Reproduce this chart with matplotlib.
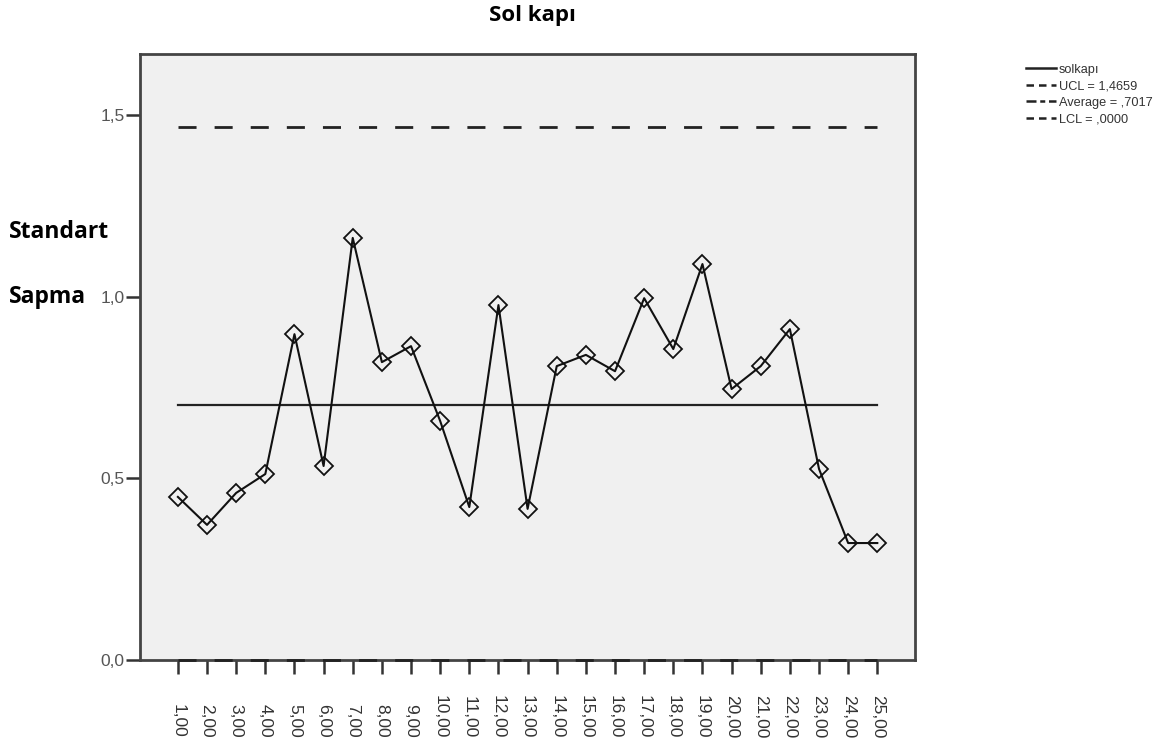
import matplotlib
matplotlib.use("Agg")
import matplotlib.pyplot as plt
from matplotlib.lines import Line2D

samples = list(range(1, 26))
tick_labels = [f"{i},00" for i in samples]
solkapi = [0.449, 0.372, 0.460, 0.512, 0.897, 0.534, 1.162, 0.820, 0.864, 0.658,
           0.421, 0.977, 0.416, 0.809, 0.840, 0.795, 0.996, 0.856, 1.090, 0.746,
           0.809, 0.911, 0.526, 0.322, 0.322]
ucl = 1.4659
average = 0.7017
lcl = 0.0
y_ticks = [0.0, 0.5, 1.0, 1.5]
y_tick_labels = ["0,0", "0,5", "1,0", "1,5"]

fig = plt.figure(figsize=(11.57, 7.49), dpi=100)
ax = fig.add_axes([0.121, 0.1188, 0.670, 0.809])
ax.set_facecolor("#f0f0f0")

ax.plot(samples, [ucl] * len(samples), color="#222222", lw=2.0, ls=(0, (6.5, 6.5)))
ax.plot(samples, [average] * len(samples), color="#222222", lw=1.6, ls="-")
ax.plot(samples, [lcl] * len(samples), color="#222222", lw=2.0, ls=(0, (6.5, 6.5)),
        clip_on=False, zorder=5)
ax.plot(samples, solkapi, color="#111111", lw=1.5, marker="D", markersize=9.5,
        markerfacecolor="none", markeredgecolor="#111111", markeredgewidth=1.3, zorder=6)

ax.set_xlim(-0.3, 26.3)
ax.set_ylim(0, 1.668)
ax.set_xticks(samples)
ax.set_xticklabels([])
xt = ax.get_xaxis_transform()
for x, lab in zip(samples, tick_labels):
    ax.text(x, -0.1287, lab, transform=xt, rotation=270, ha="center", va="bottom",
            fontsize=12.5, color="#333333", family="Liberation Sans")
ax.set_yticks(y_ticks)
ax.set_yticklabels(y_tick_labels, fontsize=12.5, color="#555555", family="Liberation Sans")
ax.tick_params(axis="both", direction="out", length=10, width=1.8, color="#333333")
ax.tick_params(axis="y", pad=1)
for s in ax.spines.values():
    s.set_linewidth(2.0)
    s.set_color("#444444")

fig.text(0.46, 0.979, "Sol kapı", ha="center", va="center", fontsize=16,
         fontweight="bold", family="Open Sans")
fig.text(0.008, 0.690, "Standart", ha="left", va="center", fontsize=16.5,
         fontweight="bold", family="Open Sans")
fig.text(0.008, 0.603, "Sapma", ha="left", va="center", fontsize=16.5,
         fontweight="bold", family="Open Sans")

handles = [
    Line2D([], [], color="#222222", lw=1.8, ls="-"),
    Line2D([], [], color="#222222", lw=1.8, ls=(0, (3, 2, 3, 2))),
    Line2D([], [], color="#222222", lw=1.8, ls=(0, (4, 1.5, 2, 1.5))),
    Line2D([], [], color="#222222", lw=1.8, ls=(0, (3, 2, 3, 2))),
]
labels = ["solkapı", "UCL = 1,4659", "Average = ,7017", "LCL = ,0000"]
leg = fig.legend(handles, labels, loc="upper left", bbox_to_anchor=(0.887, 0.915),
                 frameon=False, handlelength=2.3, handletextpad=0.25,
                 labelspacing=0.35, borderpad=0, borderaxespad=0,
                 prop={"family": "Liberation Sans", "size": 9.2})
for t in leg.get_texts():
    t.set_color("#333333")

fig.savefig("out.png", dpi=100)
